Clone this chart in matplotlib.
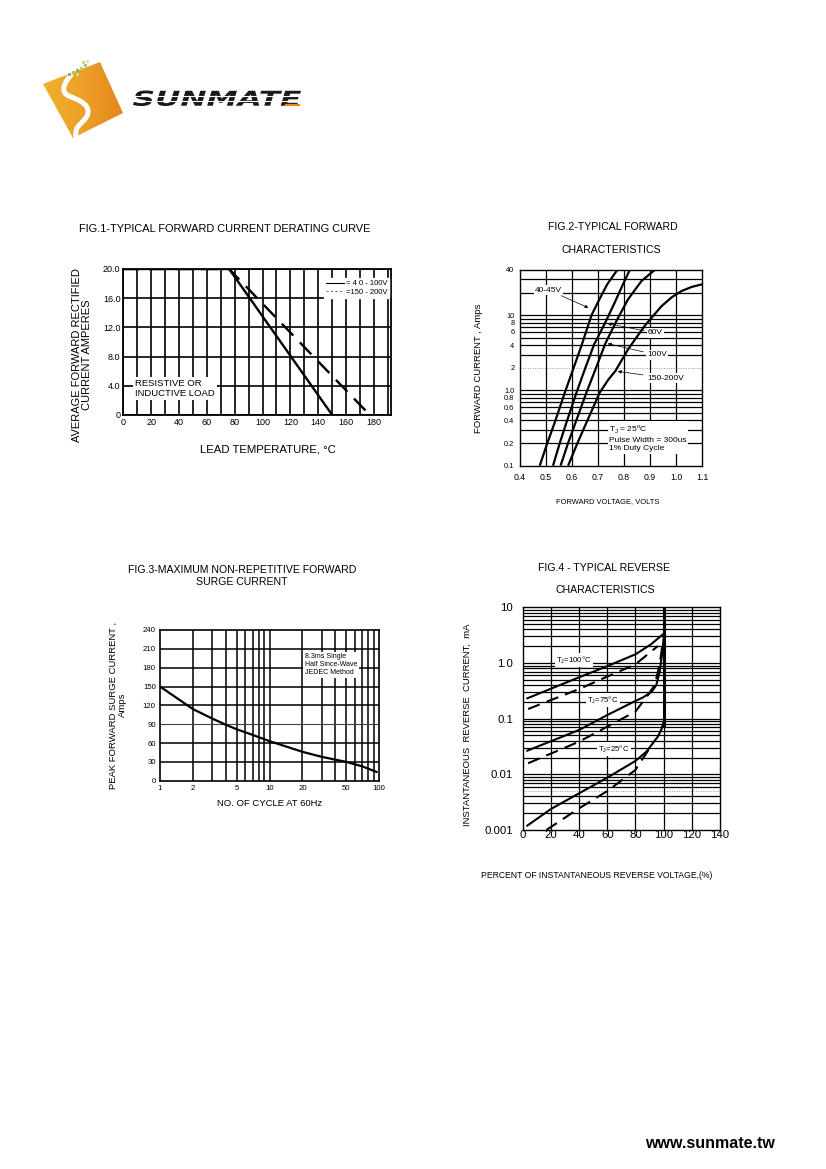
import numpy as np
import matplotlib
matplotlib.use("Agg")
import matplotlib.pyplot as plt
from matplotlib.patches import Polygon, PathPatch
from matplotlib.path import Path
from matplotlib.textpath import TextPath
from matplotlib.font_manager import FontProperties
import matplotlib.transforms as mtransforms

plt.rcParams['font.family'] = ['Liberation Sans', 'DejaVu Sans']

W, H = 826, 1169

# ---- Fig.1 derating curve data ----
fig1_temp_low = [0, 76, 150]          # 40 - 100V
fig1_amp_low = [20, 20, 0]
fig1_temp_high = [0, 76, 177]         # 150 - 200V
fig1_amp_high = [20, 20, 0]
fig1_yticks = [0, 4, 8, 12, 16, 20]
fig1_ylabels = ['0', '4.0', '8.0', '12.0', '16.0', '20.0']
fig1_xticks = [0, 20, 40, 60, 80, 100, 120, 140, 160, 180]

# ---- Fig.2 forward characteristics ----
v_4045 = [0.476, 0.505, 0.533, 0.572, 0.604, 0.638, 0.675, 0.700, 0.736, 0.774]
i_4045 = [0.1, 0.2, 0.37, 0.93, 1.9, 4.1, 10, 15, 26, 40]
v_60 = [0.527, 0.553, 0.578, 0.617, 0.649, 0.685, 0.728, 0.764, 0.796, 0.822]
i_60 = [0.1, 0.2, 0.37, 0.93, 1.9, 4.1, 8.0, 14.7, 25.8, 40]
v_100 = [0.556, 0.585, 0.613, 0.655, 0.690, 0.728, 0.771, 0.815, 0.867, 0.918]
i_100 = [0.1, 0.2, 0.37, 0.93, 1.9, 4.2, 8.4, 16.2, 28.5, 40]
v_150 = [0.585, 0.621, 0.655, 0.706, 0.740, 0.767, 0.815, 0.879, 0.944, 0.985, 1.021, 1.060, 1.100]
i_150 = [0.1, 0.2, 0.37, 0.93, 1.4, 1.82, 3.5, 7.2, 13.2, 17.5, 21, 23.8, 25.8]
fig2_yticks = [0.1, 0.2, 0.4, 0.6, 0.8, 1.0, 2, 4, 6, 8, 10, 40]
fig2_ylabels = ['0.1', '0.2', '0.4', '0.6', '0.8', '1.0', '2', '4', '6', '8', '10', '40']
fig2_xticks = [0.4, 0.5, 0.6, 0.7, 0.8, 0.9, 1.0, 1.1]

# ---- Fig.3 surge current ----
cycles = [1, 2, 3, 4, 5, 7, 10, 20, 30, 50, 70, 95]
surge = [150, 114, 99, 89, 82, 73, 63, 46, 38, 30, 23, 14]
fig3_xticks = [1, 2, 5, 10, 20, 50, 100]
fig3_yticks = [0, 30, 60, 90, 120, 150, 180, 210, 240]

# ---- Fig.4 reverse characteristics ----
pct_100s = [3.3, 40, 60, 80, 91, 99.5]
ir_100s = [0.232, 0.553, 0.877, 1.43, 2.16, 3.27]
pct_100d = [3.8, 40, 60, 80, 96]
ir_100d = [0.149, 0.34, 0.57, 0.946, 2.02]
pct_75s = [3.3, 40, 60, 80, 85.3, 91.3, 94.8, 97.2, 98.8, 100]
ir_75s = [0.0266, 0.0626, 0.116, 0.208, 0.24, 0.30, 0.40, 0.70, 1.39, 2.77]
pct_75d = [3.8, 40, 60, 80, 88.9, 93.6, 96, 97.8, 99]
ir_75d = [0.0158, 0.0386, 0.0718, 0.134, 0.266, 0.40, 0.70, 1.2, 2.0]
pct_25s = [3.3, 20, 40, 60, 80, 87.7, 92.4, 96, 98.3, 100]
ir_25s = [0.0012, 0.00238, 0.00456, 0.0087, 0.0174, 0.0255, 0.0364, 0.048, 0.063, 0.088]
pct_25d = [16.8, 40, 60, 80, 85.3, 90, 92.4]
ir_25d = [0.001, 0.00245, 0.0050, 0.012, 0.0194, 0.029, 0.0364]
pct_break = [100, 100]
ir_break = [0.077, 10]
fig4_yticks = [0.001, 0.01, 0.1, 1.0, 10]
fig4_ylabels = ['0.001', '0.01', '0.1', '1.0', '10']
fig4_xticks = [0, 20, 40, 60, 80, 100, 120, 140]


def box(l, t, r, b):
    return [l / W, 1 - b / H, (r - l) / W, (b - t) / H]


def ftext(fig, x, y, s, **kw):
    fig.text(x / W, 1 - y / H, s, **kw)


def clean(ax, lw=1.2):
    for sp in ax.spines.values():
        sp.set_color('k')
        sp.set_linewidth(lw)
        sp.set_zorder(5)
    ax.tick_params(which='both', length=0)


fig = plt.figure(figsize=(W / 100, H / 100), dpi=100)
fig.patch.set_facecolor('white')

# ---------------- logo ----------------
lg = fig.add_axes(box(40, 58, 310, 148))
lg.set_xlim(40, 310)
lg.set_ylim(148, 58)
lg.axis('off')
sq = [(43, 84), (100, 62), (123, 113), (73, 138)]
grad = np.linspace(0, 1, 64)[None, :]
img = lg.imshow(grad, extent=(43, 123, 138, 62), cmap=matplotlib.colors.LinearSegmentedColormap.from_list(
    'lg', ['#f0b22c', '#eda02a', '#e5861e']), aspect='auto', zorder=1)
clip = Polygon(sq, closed=True, transform=lg.transData, facecolor='none', edgecolor='none')
lg.add_patch(clip)
img.set_clip_path(clip)
s_path = Path([(72, 74), (65, 81), (59, 92), (69, 96),
               (79, 100), (92, 105), (87, 116),
               (83, 124), (74, 125), (76, 137)],
              [Path.MOVETO] + [Path.CURVE4] * 9)
lg.add_patch(PathPatch(s_path, facecolor='none', edgecolor='white', lw=3.6, capstyle='butt', zorder=3))
lg.add_patch(PathPatch(s_path, facecolor='none', edgecolor='none', zorder=3, clip_path=clip))
for (dx, dy, c) in [(68, 73, '#8db843'), (72, 71, '#a6c95e'), (76, 69, '#8db843'), (80, 67, '#b5d27a'),
                    (76, 73, '#c4dc8e'), (84, 64, '#a6c95e'), (86, 60, '#d5e6ac'), (82, 61, '#c4dc8e')]:
    lg.add_patch(Polygon([(dx, dy), (dx + 2.5, dy), (dx + 2.5, dy + 2.5), (dx, dy + 2.5)], facecolor=c,
                         edgecolor='none', zorder=4))
tp = TextPath((0, 0), 'SUNMATE', size=10, prop=FontProperties(family='DejaVu Sans', weight='bold', style='italic'))
bb = tp.get_extents()
tr = mtransforms.Affine2D().translate(-bb.x0, -bb.y0).scale(168 / bb.width, -15.5 / bb.height).translate(133, 106)
lg.add_patch(PathPatch(tr.transform_path(tp), facecolor='#1a1a1a', edgecolor='none', zorder=3))
for yy in [96.2, 100.5]:
    lg.plot([133, 301], [yy, yy], color='white', lw=0.8, zorder=4)
lg.plot([286, 299], [104.5, 104.5], color='#e8861c', lw=1.6, zorder=5)

# ---------------- Fig.1 ----------------
ax1 = fig.add_axes(box(123.3, 269, 390.7, 415))
ax1.plot(fig1_temp_low, fig1_amp_low, color='k', lw=1.7, label='= 4 0 - 100V', zorder=4)
ax1.plot(fig1_temp_high, fig1_amp_high, color='k', lw=1.7, ls=(0, (7, 4)), label='=150 - 200V', zorder=4)
ax1.set_xlim(0, 192)
ax1.set_ylim(0, 20)
ax1.set_xticks(fig1_xticks)
ax1.set_xticks(np.arange(10, 200, 20), minor=True)
ax1.set_yticks(fig1_yticks)
ax1.set_yticklabels(fig1_ylabels)
ax1.grid(which='both', color='k', lw=1.2)
clean(ax1, 1.3)
ax1.tick_params(labelsize=6.5, pad=2)
leg = ax1.legend(loc='upper right', bbox_to_anchor=(0.995, 0.94), fontsize=5.5, handlelength=2.3,
                 frameon=True, fancybox=False, framealpha=1, edgecolor='white', borderpad=0.3,
                 labelspacing=0.1, handletextpad=0.2, borderaxespad=0)
for ln in leg.get_lines():
    ln.set_linewidth(0.8)
leg.get_lines()[1].set_color('#777777')
leg.get_lines()[1].set_linestyle((0, (2, 2)))
ax1.text(8.5, 3.6, 'RESISTIVE OR\nINDUCTIVE LOAD', fontsize=6.8, va='center', ha='left', linespacing=1.15,
         bbox=dict(facecolor='white', edgecolor='none', pad=1.5), zorder=6)
ftext(fig, 225, 229, 'FIG.1-TYPICAL FORWARD CURRENT DERATING CURVE', fontsize=7.9, ha='center', va='center')
ftext(fig, 268, 449, 'LEAD TEMPERATURE, °C', fontsize=8.2, ha='center', va='center')
ftext(fig, 82, 355, 'AVERAGE FORWARD RECTIFIED\nCURRENT AMPERES', fontsize=8.0, ha='center', va='center',
      rotation=90, linespacing=1.05)

# ---------------- Fig.2 ----------------
ax2 = fig.add_axes(box(520, 270, 702, 465.7))
ax2.set_yscale('log')
ax2.set_xlim(0.4, 1.1)
ax2.set_ylim(0.1, 40)
for v in [0.2, 0.3, 0.4, 0.5, 0.6, 0.7, 0.8, 0.9, 1.0, 3, 4, 5, 6, 7, 8, 9, 10, 20, 30]:
    ax2.axhline(v, color='k', lw=0.9, zorder=1)
ax2.axhline(2, color='#999999', lw=0.7, ls=(0, (1, 1.5)), zorder=1)
for v in np.arange(0.5, 1.05, 0.1):
    ax2.axvline(v, color='k', lw=0.9, zorder=1)
for vv, ii in [(v_4045, i_4045), (v_60, i_60), (v_100, i_100), (v_150, i_150)]:
    ax2.plot(vv, ii, color='k', lw=1.6, zorder=3, solid_capstyle='butt', solid_joinstyle='round')
ax2.set_yticks(fig2_yticks)
ax2.set_yticklabels(fig2_ylabels)
ax2.yaxis.set_minor_locator(matplotlib.ticker.NullLocator())
ax2.set_xticks(fig2_xticks)
ax2.set_xticklabels([f'{t:.1f}' for t in fig2_xticks])
clean(ax2, 1.0)
ax2.tick_params(axis='y', labelsize=5.3, pad=4)
ax2.tick_params(axis='x', labelsize=6.3, pad=5)
lbl = dict(fontsize=6.0, va='center', ha='left', bbox=dict(facecolor='white', edgecolor='none', pad=0.8), zorder=6)
arw = dict(arrowstyle='-|>', color='k', lw=0.5, mutation_scale=5)


def ann(ax, s, xy_curve, xy_text):
    ax.annotate(s, xy=xy_curve, xytext=xy_text, textcoords='figure fraction', xycoords='figure fraction',
                arrowprops=arw, **lbl)


ann(ax2, '40-45V', (591 / W, 1 - 309 / H), (535 / W, 1 - 290 / H))
ann(ax2, '60V', (605 / W, 1 - 323 / H), (648 / W, 1 - 333 / H))
ann(ax2, '100V', (605 / W, 1 - 343 / H), (647 / W, 1 - 355 / H))
ann(ax2, '150-200V', (615 / W, 1 - 371 / H), (647 / W, 1 - 378 / H))
ftext(fig, 609, 438, 'T$_\\mathregular{J}$ = 25$^\\mathregular{o}$C\nPulse Width = 300us\n1% Duty Cycle',
      fontsize=6.0, va='center', ha='left', linespacing=1.25,
      bbox=dict(facecolor='white', edgecolor='none', pad=1.0), zorder=6)
ftext(fig, 613, 227, 'FIG.2-TYPICAL FORWARD', fontsize=7.6, ha='center', va='center')
ftext(fig, 611, 250, 'CHARACTERISTICS', fontsize=7.6, ha='center', va='center')
ftext(fig, 608, 502, 'FORWARD VOLTAGE, VOLTS', fontsize=5.4, ha='center', va='center')
ftext(fig, 478, 368, 'FORWARD CURRENT , Amps', fontsize=6.8, ha='center', va='center', rotation=90)

# ---------------- Fig.3 ----------------
ax3 = fig.add_axes(box(160, 630, 379, 780.7))
ax3.set_xscale('log')
ax3.set_xlim(1, 100)
ax3.set_ylim(0, 240)
for v in list(range(2, 10)) + list(range(10, 100, 10)):
    ax3.axvline(v, color='k', lw=1.1, zorder=1)
for v in fig3_yticks[1:-1]:
    ax3.axhline(v, color='#444444' if v == 90 else 'k', lw=0.8 if v == 90 else 1.1, zorder=1)
ax3.plot(cycles, surge, color='k', lw=1.6, zorder=3, solid_joinstyle='round')
ax3.set_xticks(fig3_xticks)
ax3.set_xticklabels([str(t) for t in fig3_xticks])
ax3.xaxis.set_minor_locator(matplotlib.ticker.NullLocator())
ax3.set_yticks(fig3_yticks)
clean(ax3, 1.2)
ax3.tick_params(labelsize=5.6, pad=3)
ax3.text(0.66, 0.77, '8.3ms Single\nHalf Since-Wave\nJEDEC Method', transform=ax3.transAxes, fontsize=5.0,
         va='center', ha='left', linespacing=1.15, bbox=dict(facecolor='white', edgecolor='none', pad=1.2),
         zorder=6)
ftext(fig, 242, 570, 'FIG.3-MAXIMUM NON-REPETITIVE FORWARD', fontsize=7.6, ha='center', va='center')
ftext(fig, 242, 582, 'SURGE CURRENT', fontsize=7.6, ha='center', va='center')
ftext(fig, 270, 803, 'NO. OF CYCLE AT 60Hz', fontsize=6.8, ha='center', va='center')
ftext(fig, 118, 705, 'PEAK FORWARD SURGE CURRENT ,\nAmps', fontsize=6.8, ha='center', va='center',
      rotation=90, linespacing=1.1)

# ---------------- Fig.4 ----------------
ax4 = fig.add_axes(box(522.7, 607.3, 720, 830))
ax4.set_yscale('log')
ax4.set_xlim(0, 140)
ax4.set_ylim(0.001, 10)
for dec in [0.001, 0.01, 0.1, 1.0]:
    for m in range(1, 10):
        val = dec * m
        if dec == 0.001 and m == 1:
            continue
        if dec == 0.001 and m == 5:
            ax4.axhline(val, color='#999999', lw=0.7, ls=(0, (1, 1.5)), zorder=1)
        else:
            ax4.axhline(val, color='k', lw=0.9, zorder=1)
for v in range(20, 140, 20):
    ax4.axvline(v, color='k', lw=0.9, zorder=1)
solid = dict(color='k', lw=1.5, zorder=3, solid_joinstyle='round')
dash = dict(color='k', lw=1.5, ls=(0, (6, 3.5)), zorder=3)
ax4.plot(pct_100s, ir_100s, **solid)
ax4.plot(pct_100d, ir_100d, **dash)
ax4.plot(pct_75s, ir_75s, **solid)
ax4.plot(pct_75d, ir_75d, **dash)
ax4.plot(pct_25s, ir_25s, **solid)
ax4.plot(pct_25d, ir_25d, **dash)
ax4.plot(pct_break, ir_break, color='k', lw=2.2, zorder=3)
ax4.set_yticks(fig4_yticks)
ax4.set_yticklabels(fig4_ylabels)
ax4.yaxis.set_minor_locator(matplotlib.ticker.NullLocator())
ax4.set_xticks(fig4_xticks)
clean(ax4, 1.0)
ax4.tick_params(axis='y', labelsize=8.2, pad=7)
ax4.tick_params(axis='x', labelsize=8.2, pad=0)
tl = dict(fontsize=5.6, va='center', ha='center', bbox=dict(facecolor='white', edgecolor='none', pad=1.2),
          zorder=6)
ftext(fig, 574, 660, 'T$_\\mathregular{J}$=100°C', **tl)
ftext(fig, 603, 700, 'T$_\\mathregular{J}$=75°C', **tl)
ftext(fig, 614, 749, 'T$_\\mathregular{J}$=25°C', **tl)
ftext(fig, 604, 568, 'FIG.4 - TYPICAL REVERSE', fontsize=7.6, ha='center', va='center')
ftext(fig, 605, 590, 'CHARACTERISTICS', fontsize=7.6, ha='center', va='center')
ftext(fig, 597, 876, 'PERCENT OF INSTANTANEOUS REVERSE VOLTAGE,(%)', fontsize=6.2, ha='center', va='center',
      fontstretch='condensed')
ftext(fig, 467, 725, 'INSTANTANEOUS  REVERSE  CURRENT,  mA', fontsize=6.8, ha='center', va='center', rotation=90)

# ---------------- footer ----------------
ftext(fig, 710, 1143, 'www.sunmate.tw', fontsize=11.5, weight='bold', ha='center', va='center')

fig.savefig('out.png', dpi=100)
